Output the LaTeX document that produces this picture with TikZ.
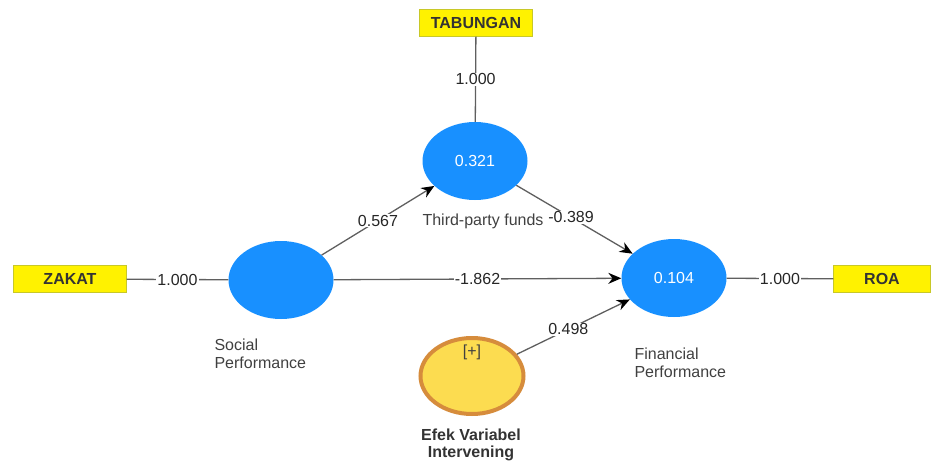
\documentclass[tikz,border=0pt]{standalone}
\usepackage{fontspec}
\setmainfont{Liberation Sans}
\usetikzlibrary{positioning}
\usetikzlibrary{shapes.geometric}
\usetikzlibrary{arrows.meta}
\definecolor{lvblue}{RGB}{24,144,255}
\definecolor{modfill}{RGB}{252,220,80}
\definecolor{modedge}{RGB}{214,140,60}
\definecolor{boxedge}{RGB}{200,200,40}
\definecolor{linegray}{RGB}{95,95,95}

\begin{document}
\begin{tikzpicture}[x=1pt, y=-1pt,
                    every node/.style={font=\fontsize{16}{18}\selectfont},
                    latent/.style={ellipse, fill=lvblue, minimum width=105pt, minimum height=78pt, inner sep=0pt, text=white},
                    moderator/.style={ellipse, draw=modedge, line width=4pt, fill=modfill, minimum width=103pt, minimum height=76pt, inner sep=0pt},
                    indicator/.style={rectangle, draw=boxedge, fill=yellow, minimum width=113pt, minimum height=27pt, inner sep=0pt, text=black!80, font=\fontsize{16}{18}\selectfont\bfseries},
                    coef/.style={fill=white, inner sep=1pt, text=black!85},
                    varname/.style={text=black!75, align=left},
                    structural/.style={draw=linegray, line width=1.3pt, -{Stealth[length=13pt, width=11pt, color=black]}},
                    outer/.style={draw=linegray, line width=1.3pt},
                ]
                \useasboundingbox (0,0) rectangle (938,464);

                %Nodes
                \node[latent]      (social)    at (281,280)   {};
                \node[latent]      (tpf)       at (475,161)   {0.321};
                \node[latent]      (financial) at (674,278)   {0.104};
                \node[moderator]   (efek)      at (472,376)   {};
                \node[text=black!75] (plus)    at (472,352)   {[+]};

                \node[indicator]   (zakat)     at (70,279)    {ZAKAT};
                \node[indicator]   (tabungan)  at (476,23)    {TABUNGAN};
                \node[indicator, minimum width=97pt] (roa) at (882,279) {ROA};

                %Names
                \node[varname, anchor=north west] (social_name)    at (211,335) {Social\\Performance};
                \node[varname, anchor=north west] (financial_name) at (631,344) {Financial\\Performance};
                \node[varname, anchor=west]       (tpf_name)       at (419,221) {Third-party funds};
                \node[align=center, anchor=north, text=black!80, font=\fontsize{16}{17}\selectfont\bfseries]
                                                  (efek_name)      at (471,425) {Efek Variabel\\Intervening};

                %Lines
                \draw[outer] (zakat) -- node[coef] {1.000} (social);
                \draw[outer] (tabungan) -- node[coef] {1.000} (tpf);
                \draw[outer] (financial) -- node[coef] {1.000} (roa);

                \draw[structural] (social) -- node[coef, pos=0.5] {0.567} (tpf);
                \draw[structural] (tpf) -- node[coef, pos=0.47] {-0.389} (financial);
                \draw[structural] (social) -- node[coef, pos=0.5] {-1.862} (financial);
                \draw[structural] (efek) -- node[coef, pos=0.455] {0.498} (financial);
\end{tikzpicture}
\end{document}
